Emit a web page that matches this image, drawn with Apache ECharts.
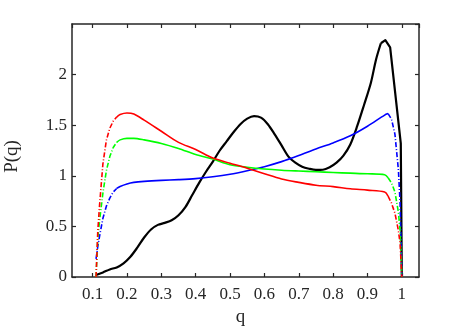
<!DOCTYPE html>
<html>
<head>
<meta charset="utf-8">
<script src="https://cdn.jsdelivr.net/npm/echarts@6/dist/echarts.min.js"></script>
<style>
  html, body { margin: 0; padding: 0; background: #fff; }
  #chart { width: 463px; height: 328px; }
</style>
</head>
<body>
<div id="chart"></div>
<script>
// q grid shared by the three coloured curves
const qColor = [0.11, 0.115, 0.12, 0.13, 0.14, 0.15, 0.16, 0.17, 0.18, 0.2, 0.22, 0.25, 0.3, 0.35, 0.4, 0.45,
  0.5, 0.55, 0.6, 0.65, 0.7, 0.75, 0.8, 0.85, 0.9, 0.95, 0.96, 0.97, 0.98, 0.99, 0.995, 1.0]
const pRed = [0.0, 0.45, 0.7, 1.12, 1.35, 1.47, 1.54, 1.58, 1.605, 1.62, 1.61, 1.55, 1.44, 1.33, 1.26, 1.175,
  1.125, 1.075, 1.02, 0.968, 0.935, 0.907, 0.893, 0.872, 0.858, 0.84, 0.8, 0.73, 0.63, 0.46, 0.33, 0.0]
const pGreen = [0.0, 0.38, 0.55, 0.83, 1.05, 1.19, 1.28, 1.33, 1.355, 1.37, 1.37, 1.355, 1.32, 1.27, 1.21, 1.165,
  1.11, 1.085, 1.067, 1.055, 1.047, 1.04, 1.032, 1.026, 1.02, 1.01, 0.98, 0.93, 0.84, 0.64, 0.46, 0.0]
const pBlue = [0.18, 0.3, 0.4, 0.58, 0.7, 0.78, 0.84, 0.875, 0.895, 0.92, 0.935, 0.945, 0.955, 0.962, 0.972, 0.99,
  1.015, 1.05, 1.09, 1.14, 1.2, 1.265, 1.325, 1.395, 1.49, 1.6, 1.615, 1.56, 1.41, 1.06, 0.73, 0.0]

// black curve has its own sampling
const qBlack = [0.11, 0.13, 0.15, 0.17, 0.19, 0.21, 0.23, 0.25, 0.27, 0.29, 0.31, 0.33, 0.35, 0.37, 0.39, 0.41,
  0.43, 0.45, 0.47, 0.49, 0.51, 0.53, 0.55, 0.57, 0.59, 0.61, 0.63, 0.65, 0.67, 0.69, 0.71, 0.73, 0.75, 0.77,
  0.79, 0.81, 0.83, 0.85, 0.87, 0.89, 0.91, 0.925, 0.939, 0.952, 0.966, 0.997, 1.0]
const pBlack = [0.02, 0.045, 0.075, 0.095, 0.135, 0.2, 0.29, 0.39, 0.47, 0.515, 0.535, 0.56, 0.61, 0.69, 0.81, 0.93,
  1.04, 1.14, 1.25, 1.34, 1.43, 1.51, 1.565, 1.59, 1.575, 1.51, 1.41, 1.3, 1.19, 1.13, 1.09, 1.07, 1.058, 1.06,
  1.085, 1.13, 1.2, 1.31, 1.49, 1.7, 1.92, 2.15, 2.31, 2.34, 2.27, 1.32, 0.0]

const axisColor = '#262626'
const serif = 'Liberation Serif'
const dashDot = [5, 2, 1, 2]
const qSolidFrom = 0.17
const qSolidTo = 0.96
const qBlackKink = 0.939

function pairs(q, p) {
  return q.map((v, i) => [v, p[i]])
}

function lineSeries(data, color, width, type, smooth) {
  return {
    type: 'line',
    data,
    symbol: 'none',
    smooth,
    lineStyle: { color, width, type, join: 'round' }
  }
}

// steep ends of the coloured curves are dash-dot, the flat middle is solid
function colouredSeries(q, p, color) {
  const pts = pairs(q, p)
  return [
    lineSeries(pts.filter((d) => d[0] <= qSolidFrom), color, 1.6, dashDot, false),
    lineSeries(pts.filter((d) => d[0] >= qSolidFrom && d[0] <= qSolidTo), color, 1.6, 'solid', 0.3),
    lineSeries(pts.filter((d) => d[0] >= qSolidTo), color, 1.6, dashDot, false)
  ]
}

function blackSeries(q, p) {
  const pts = pairs(q, p)
  return [
    lineSeries(pts.filter((d) => d[0] <= qBlackKink), '#000000', 2.2, 'solid', 0.3),
    lineSeries(pts.filter((d) => d[0] >= qBlackKink), '#000000', 2.2, 'solid', false)
  ]
}

function boxAxis(extra) {
  return Object.assign({
    type: 'value',
    axisLine: { show: true, onZero: false, lineStyle: { color: axisColor, width: 1.5 } },
    axisTick: { show: true, inside: true, length: 4, lineStyle: { color: axisColor, width: 1.2 } },
    splitLine: { show: false }
  }, extra)
}

const labelStyle = { color: axisColor, fontFamily: serif, fontSize: 17 }

const chart = echarts.init(document.getElementById('chart'))
chart.setOption({
  animation: false,
  grid: { left: 72, right: 44, top: 24, bottom: 51, containLabel: false, outerBoundsMode: 'none' },
  xAxis: [
    boxAxis({
      position: 'bottom', min: 0.04, max: 1.05, splitNumber: 10,
      axisLabel: Object.assign({ margin: 9, showMinLabel: false, showMaxLabel: false }, labelStyle),
      name: 'q', nameLocation: 'middle', nameGap: 26,
      nameTextStyle: { color: axisColor, fontFamily: serif, fontSize: 19, padding: [0, 10, 0, 0] }
    }),
    boxAxis({ position: 'top', min: 0.04, max: 1.05, splitNumber: 10, axisLabel: { show: false } })
  ],
  yAxis: [
    boxAxis({
      position: 'left', min: 0, max: 2.5, interval: 0.5,
      axisLabel: Object.assign({ margin: 5, showMaxLabel: false }, labelStyle),
      name: 'P(q)', nameLocation: 'middle', nameGap: 50,
      nameTextStyle: { color: axisColor, fontFamily: serif, fontSize: 19, padding: [0, 12, 0, 0] }
    }),
    boxAxis({ position: 'right', min: 0, max: 2.5, interval: 0.5, axisLabel: { show: false } })
  ],
  series: [
    ...blackSeries(qBlack, pBlack),
    ...colouredSeries(qColor, pBlue, '#0000ff'),
    ...colouredSeries(qColor, pGreen, '#00ff00'),
    ...colouredSeries(qColor, pRed, '#ff0000')
  ]
})
</script>
</body>
</html>
